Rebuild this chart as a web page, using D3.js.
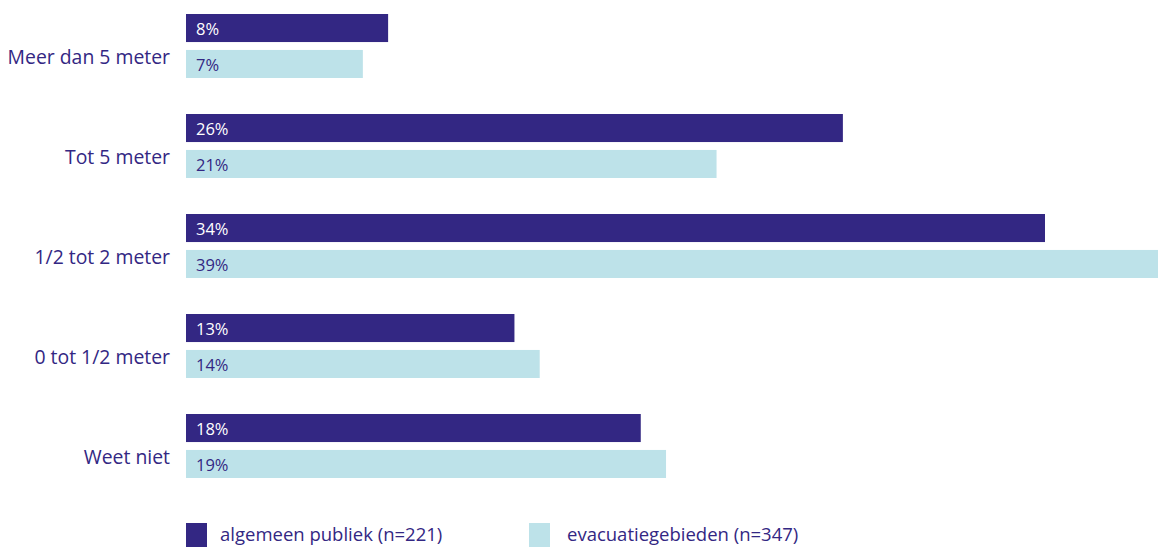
<!DOCTYPE html>
<html><head><meta charset="utf-8">
<script src="https://cdn.jsdelivr.net/npm/d3@7"></script>
<style>body{margin:0;background:#fff;overflow:hidden}svg{display:block}</style>
</head><body>
<svg id="c" width="1158" height="547"></svg>
<script>
const categories = ["Meer dan 5 meter","Tot 5 meter","1/2 tot 2 meter","0 tot 1/2 meter","Weet niet"];
const algemeen = [8,26,34,13,18];
const evacuatie = [7,21,39,14,19];
const seriesNames = ["algemeen publiek (n=221)","evacuatiegebieden (n=347)"];
const colors = ["#332783","#bde2e9"];
const textColors = ["#ffffff","#332783"];
const font = "'Open Sans', Lato, sans-serif";

const svg = d3.select("#c");
const x = d3.scaleLinear().domain([0,34]).range([186,1045]);
const y = d3.scaleBand().domain(categories).range([0,500]).paddingInner(0).paddingOuter(0);
const inner = d3.scaleBand().domain([0,1]).range([14,78]).paddingInner(0.22);

const series = [algemeen, evacuatie];
const g = svg.append("g");
categories.forEach((cat,i)=>{
  const gy = y(cat);
  series.forEach((vals,s)=>{
    const by = gy + inner(s);
    g.append("rect").attr("x",x(0)).attr("y",by).attr("width",x(vals[i])-x(0)).attr("height",inner.bandwidth()).attr("fill",colors[s]);
    g.append("text").attr("x",x(0)+10).attr("y",by+inner.bandwidth()/2+1).attr("dy","0.36em")
      .attr("font-family",font).attr("font-size",16.5).attr("fill",textColors[s]).text(vals[i]+"%");
  });
  g.append("text").attr("x",170).attr("y",gy+57).attr("dy","0.36em").attr("text-anchor","end")
    .attr("font-family",font).attr("font-size",19.4).attr("fill","#332783").text(cat);
});

const legX = [186,529];
const legTX = [220,567];
seriesNames.forEach((n,s)=>{
  svg.append("rect").attr("x",legX[s]).attr("y",523).attr("width",21).attr("height",24).attr("fill",colors[s]);
  svg.append("text").attr("x",legTX[s]).attr("y",534).attr("dy","0.36em")
    .attr("font-family",font).attr("font-size",18.5).attr("fill","#332783").text(n);
});
</script>
</body></html>
